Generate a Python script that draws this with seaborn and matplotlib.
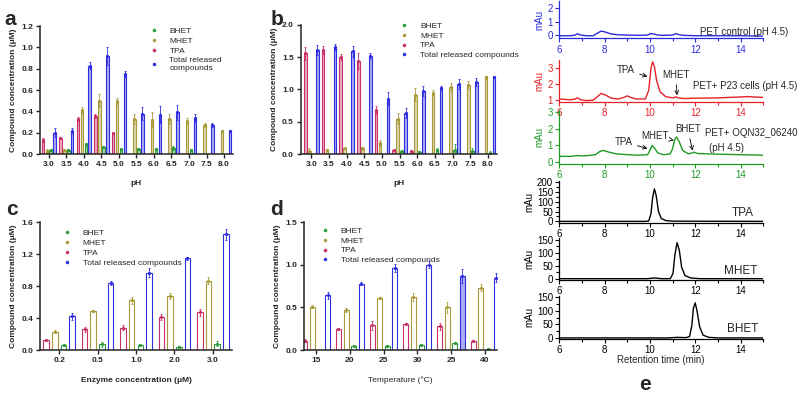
import numpy as np
import pandas as pd
import matplotlib
matplotlib.use("Agg")
import matplotlib.pyplot as plt
from matplotlib.lines import Line2D
from matplotlib.ticker import MultipleLocator
import seaborn as sns

sns.set_style("ticks")
plt.rcParams['font.family'] = ['Liberation Sans', 'DejaVu Sans']

# ---------------- bar data ----------------
compounds = ["TPA", "MHET", "BHET", "Total"]
colors = {"TPA": "#c9306a", "MHET": "#a99b3a", "BHET": "#2e9a3c", "Total": "#2f2fe0"}
legend_order = ["BHET", "MHET", "TPA", "Total"]

ph_labels = ["3.0", "3.5", "4.0", "4.5", "5.0", "5.5", "6.0", "6.5", "7.0", "7.5", "8.0"]

a_tpa = [0.13, 0.15, 0.33, 0.36, 0.20, 0.0, 0.0, 0.0, 0.0, 0.0, 0.0]
a_mhet = [0.03, 0.04, 0.41, 0.50, 0.50, 0.33, 0.32, 0.33, 0.31, 0.27, 0.22]
a_bhet = [0.04, 0.04, 0.09, 0.07, 0.05, 0.05, 0.05, 0.06, 0.04, 0.0, 0.0]
a_total = [0.20, 0.22, 0.83, 0.92, 0.75, 0.38, 0.37, 0.39, 0.34, 0.27, 0.22]
a_tpa_sd = [0.02, 0.01, 0.02, 0.02, 0.01, 0, 0, 0, 0, 0, 0]
a_mhet_sd = [0.02, 0.01, 0.03, 0.06, 0.03, 0.05, 0.07, 0.05, 0.03, 0.02, 0.01]
a_bhet_sd = [0.01, 0.01, 0.01, 0.01, 0.01, 0.01, 0.01, 0.02, 0.01, 0, 0]
a_total_sd = [0.04, 0.02, 0.03, 0.08, 0.03, 0.06, 0.08, 0.07, 0.04, 0.02, 0.01]

b_tpa = [1.56, 1.61, 1.50, 1.44, 0.68, 0.06, 0.04, 0.0, 0.0, 0.0, 0.0]
b_mhet = [0.05, 0.06, 0.09, 0.09, 0.17, 0.55, 0.92, 0.95, 1.04, 1.07, 1.19]
b_bhet = [0.0, 0.0, 0.0, 0.0, 0.0, 0.04, 0.03, 0.07, 0.06, 0.05, 0.02]
b_total = [1.61, 1.66, 1.59, 1.52, 0.86, 0.64, 0.98, 1.02, 1.09, 1.12, 1.20]
b_tpa_sd = [0.10, 0.06, 0.05, 0.12, 0.06, 0.01, 0.01, 0, 0, 0, 0]
b_mhet_sd = [0.05, 0.02, 0.01, 0.02, 0.04, 0.08, 0.10, 0.04, 0.06, 0.06, 0.02]
b_bhet_sd = [0, 0, 0, 0, 0, 0.01, 0.01, 0.02, 0.10, 0.05, 0.02]
b_total_sd = [0.08, 0.05, 0.08, 0.05, 0.10, 0.08, 0.08, 0.03, 0.08, 0.06, 0.01]

enzyme_labels = ["0.2", "0.5", "1.0", "2.0", "3.0"]
c_tpa = [0.12, 0.26, 0.28, 0.41, 0.47]
c_mhet = [0.23, 0.49, 0.62, 0.68, 0.87]
c_bhet = [0.06, 0.07, 0.06, 0.04, 0.08]
c_total = [0.42, 0.84, 0.97, 1.15, 1.45]
c_tpa_sd = [0.01, 0.03, 0.03, 0.04, 0.04]
c_mhet_sd = [0.02, 0.01, 0.05, 0.04, 0.04]
c_bhet_sd = [0.01, 0.03, 0.01, 0.01, 0.03]
c_total_sd = [0.04, 0.02, 0.06, 0.02, 0.07]

temp_labels = ["15", "20", "25", "30", "25", "40"]
d_tpa = [0.11, 0.25, 0.29, 0.31, 0.28, 0.11]
d_mhet = [0.51, 0.47, 0.61, 0.62, 0.50, 0.73]
d_bhet = [0.0, 0.05, 0.05, 0.06, 0.08, 0.01]
d_total = [0.64, 0.78, 0.96, 1.00, 0.87, 0.85]
d_tpa_sd = [0.02, 0.01, 0.05, 0.01, 0.04, 0.01]
d_mhet_sd = [0.02, 0.02, 0.01, 0.05, 0.06, 0.04]
d_bhet_sd = [0, 0.01, 0.01, 0.01, 0.01, 0]
d_total_sd = [0.04, 0.02, 0.05, 0.04, 0.08, 0.05]

# ---------------- chromatogram data ----------------
ctrl_t = [6.0, 6.5, 6.7, 6.8, 6.95, 7.2, 7.5, 7.65, 7.85, 8.05, 8.3, 8.6, 9.0, 9.5, 9.9, 10.05, 10.15, 10.35, 10.6, 11.0, 11.15, 11.25, 11.45, 12.0, 13.0, 14.0, 15.0]
ctrl_y = [-0.05, -0.05, 0.0, 0.1, 0.0, -0.05, -0.05, 0.1, 0.3, 0.22, 0.08, 0.02, 0.0, -0.02, 0.0, 0.12, 0.08, 0.0, -0.02, 0.0, 0.1, 0.05, -0.02, -0.05, -0.05, -0.05, -0.08]

p23_t = [6.0, 6.5, 6.7, 6.8, 6.95, 7.2, 7.5, 7.65, 7.85, 8.05, 8.3, 8.6, 8.85, 9.0, 9.15, 9.4, 9.8, 9.95, 10.05, 10.12, 10.2, 10.3, 10.45, 10.7, 11.0, 11.15, 11.25, 11.5, 12.0, 13.0, 14.0, 14.3, 15.0]
p23_y = [1.05, 1.0, 1.05, 1.12, 1.0, 0.95, 0.98, 1.15, 1.4, 1.3, 1.1, 1.05, 1.15, 1.25, 1.15, 1.05, 1.05, 1.6, 3.0, 3.4, 3.1, 2.2, 1.5, 1.2, 1.12, 1.18, 1.12, 1.08, 1.1, 1.12, 1.18, 1.2, 1.15]

oqn_t = [6.0, 6.5, 6.8, 7.0, 7.3, 7.6, 7.8, 7.95, 8.2, 8.5, 9.0, 9.5, 9.9, 10.0, 10.1, 10.2, 10.35, 10.6, 10.9, 11.0, 11.1, 11.18, 11.3, 11.45, 11.7, 11.85, 11.95, 12.1, 12.5, 13.0, 14.0, 15.0]
oqn_y = [0.35, 0.35, 0.4, 0.38, 0.4, 0.45, 0.65, 0.7, 0.6, 0.5, 0.45, 0.42, 0.45, 0.7, 1.0, 0.85, 0.55, 0.45, 0.5, 0.8, 1.35, 1.5, 1.2, 0.7, 0.5, 0.55, 0.6, 0.52, 0.5, 0.48, 0.45, 0.42]

tpa_t = [6.0, 9.8, 9.95, 10.05, 10.12, 10.2, 10.28, 10.38, 10.5, 10.7, 11.0, 15.0]
tpa_y = [0, 0, 2, 40, 120, 165, 130, 50, 15, 4, 1, 0]

mhet_t = [6.0, 9.9, 10.2, 10.5, 10.9, 11.02, 11.1, 11.2, 11.3, 11.4, 11.55, 11.8, 12.2, 15.0]
mhet_y = [0, 0, 3, 0, 0, 20, 90, 140, 110, 45, 12, 3, 0, 0]

bhet_t = [6.0, 10.8, 11.2, 11.6, 11.75, 11.85, 11.92, 12.0, 12.08, 12.2, 12.35, 12.6, 13.0, 15.0]
bhet_y = [0, 0, 2, 1, 5, 45, 110, 130, 100, 40, 10, 2, 0, 0]


def bar_panel(ax, labels, means, sds, ymax, step, xlabel, legend_anchor,
              total_label, fill="light", filled_total=(), xlim=None, xlabel_bold=True):
    rows = []
    for comp in compounds:
        for i, lab in enumerate(labels):
            rows.append({"group": i, "compound": comp, "value": means[comp][i]})
    df = pd.DataFrame(rows)
    sns.barplot(data=df, x="group", y="value", hue="compound", hue_order=compounds,
                palette=colors, width=0.9, gap=0.35, errorbar=None, legend=False, ax=ax)
    for comp, cont in zip(compounds, ax.containers):
        col = colors[comp]
        for j, bar in enumerate(cont):
            bar.set_edgecolor(col)
            bar.set_linewidth(0.8)
            if fill == "light" or (comp == "Total" and j in filled_total):
                bar.set_facecolor(matplotlib.colors.to_rgba(col, 0.4))
            else:
                bar.set_facecolor("white")
            x = bar.get_x() + bar.get_width() / 2
            h = bar.get_height()
            sd = sds[comp][j]
            if sd > 0:
                ax.errorbar(x, h, yerr=sd, color=col, lw=0.6, capsize=1.0, capthick=0.6)
            if h > 0:
                ax.plot(x, h, "o", ms=1.3, color=col)
    ax.set_xticks(range(len(labels)))
    ax.set_xticklabels(labels)
    ax.set_ylim(0, ymax)
    ax.yaxis.set_major_locator(MultipleLocator(step))
    ax.yaxis.set_major_formatter(matplotlib.ticker.FormatStrFormatter("%.1f"))
    if xlim is None:
        xlim = (-0.5, len(labels) - 0.5)
    ax.set_xlim(*xlim)
    ax.set_ylabel("Compound concentration (μM)", fontsize=6, fontweight="bold", labelpad=3)
    ax.set_xlabel(xlabel, fontsize=6, fontweight="bold" if xlabel_bold else "normal", labelpad=9)
    ax.tick_params(axis="both", labelsize=6, width=1.0, length=3, pad=2)
    for t in ax.get_xticklabels() + ax.get_yticklabels():
        t.set_fontweight("bold")
    for s in ["left", "bottom"]:
        ax.spines[s].set_linewidth(1.1)
    sns.despine(ax=ax)
    handles = []
    names = {"BHET": "BHET", "MHET": "MHET", "TPA": "TPA", "Total": total_label}
    for comp in legend_order:
        handles.append(Line2D([], [], ls="none", marker="o", ms=1.5, color=colors[comp], label=names[comp]))
    ax.legend(handles=handles, loc="upper left", bbox_to_anchor=legend_anchor, frameon=False,
              fontsize=6, handletextpad=1.4, labelspacing=0.25, handlelength=1, borderaxespad=0)


fig = plt.figure(figsize=(8, 3.96), dpi=100)

ax_a = fig.add_axes([0.05, 0.611, 0.241, 0.323])
bar_panel(ax_a, ph_labels,
          {"TPA": a_tpa, "MHET": a_mhet, "BHET": a_bhet, "Total": a_total},
          {"TPA": a_tpa_sd, "MHET": a_mhet_sd, "BHET": a_bhet_sd, "Total": a_total_sd},
          1.2, 0.2, "pH", (0.55, 1.02), "Total released\ncompounds")

ax_b = fig.add_axes([0.376, 0.611, 0.245, 0.326])
bar_panel(ax_b, ph_labels,
          {"TPA": b_tpa, "MHET": b_mhet, "BHET": b_bhet, "Total": b_total},
          {"TPA": b_tpa_sd, "MHET": b_mhet_sd, "BHET": b_bhet_sd, "Total": b_total_sd},
          2.0, 0.5, "pH", (0.49, 1.05), "Total released compounds", xlim=(-0.6, 10.5))

ax_c = fig.add_axes([0.05, 0.116, 0.24, 0.323])
bar_panel(ax_c, enzyme_labels,
          {"TPA": c_tpa, "MHET": c_mhet, "BHET": c_bhet, "Total": c_total},
          {"TPA": c_tpa_sd, "MHET": c_mhet_sd, "BHET": c_bhet_sd, "Total": c_total_sd},
          1.6, 0.4, "Enzyme concentration (μM)", (0.1, 0.97), "Total released compounds",
          fill="hollow")

ax_d = fig.add_axes([0.38, 0.116, 0.241, 0.323])
bar_panel(ax_d, temp_labels,
          {"TPA": d_tpa, "MHET": d_mhet, "BHET": d_bhet, "Total": d_total},
          {"TPA": d_tpa_sd, "MHET": d_mhet_sd, "BHET": d_bhet_sd, "Total": d_total_sd},
          1.5, 0.5, "Temperature (°C)", (0.07, 0.99), "Total released compounds",
          fill="hollow", filled_total=(4,), xlim=(-0.36, 5.36), xlabel_bold=False)

for x, y, s in [(0.006, 0.975, "a"), (0.338, 0.975, "b"), (0.008, 0.495, "c"), (0.338, 0.495, "d")]:
    fig.text(x, y, s, fontsize=15, fontweight="bold", va="top", ha="left")

# ---------------- chromatograms ----------------
traces = [
    (ctrl_t, ctrl_y, "#2b2bdc", [0.699, 0.903, 0.255, 0.0947], (-0.25, 2.55), 1, None),
    (p23_t, p23_y, "#e52228", [0.699, 0.742, 0.255, 0.106], (0.85, 3.5), 1, None),
    (oqn_t, oqn_y, "#1f9a24", [0.699, 0.586, 0.255, 0.136], (-0.1, 3.1), 1, None),
    (tpa_t, tpa_y, "black", [0.699, 0.437, 0.255, 0.106], (-8, 205), 50, 25),
    (mhet_t, mhet_y, "black", [0.699, 0.293, 0.255, 0.106], (-5, 158), 50, 25),
    (bhet_t, bhet_y, "black", [0.699, 0.144, 0.255, 0.109], (-4, 156), 50, 25),
]
e_axes = []
for t, y, col, rect, ylim, major, minor in traces:
    ax = fig.add_axes(rect)
    sns.lineplot(x=t, y=y, color=col, lw=1.0, ax=ax, estimator=None, sort=False)
    ax.set_xlim(6, 15)
    ax.set_ylim(*ylim)
    ax.xaxis.set_major_locator(MultipleLocator(2))
    ax.xaxis.set_minor_locator(MultipleLocator(1))
    ax.yaxis.set_major_locator(MultipleLocator(major))
    if minor:
        ax.yaxis.set_minor_locator(MultipleLocator(minor))
    ax.tick_params(axis="both", which="major", labelsize=7, length=3, width=0.8, colors=col, pad=1.5)
    ax.tick_params(axis="both", which="minor", length=2, width=0.8, colors=col)
    for s in ["left", "bottom"]:
        ax.spines[s].set_color(col)
        ax.spines[s].set_linewidth(0.9)
    sns.despine(ax=ax)
    ax.set_ylabel("mAu", fontsize=7, color=col, labelpad=2)
    ax.patch.set_alpha(0)
    e_axes.append(ax)

arrow = dict(arrowstyle="->", lw=0.6, color="black", shrinkA=1, shrinkB=1)
e_axes[0].text(12.2, 0.25, "PET control (pH 4.5)", fontsize=7, va="center")
e_axes[1].text(11.9, 1.86, "PET+ P23 cells (pH 4.5)", fontsize=7, va="center")
e_axes[1].annotate("TPA", xy=(9.95, 2.45), xytext=(8.55, 2.87), fontsize=7, va="center",
                   arrowprops=arrow)
e_axes[1].annotate("MHET", xy=(11.2, 1.2), xytext=(10.55, 2.55), fontsize=7, va="center",
                   arrowprops=arrow)
e_axes[2].text(12.45, 1.74, "PET+ OQN32_06240", fontsize=7, va="center")
e_axes[2].text(12.6, 0.85, "(pH 4.5)", fontsize=7, va="center")
e_axes[2].annotate("TPA", xy=(9.95, 0.8), xytext=(8.45, 1.2), fontsize=7, va="center",
                   arrowprops=arrow)
e_axes[2].annotate("MHET", xy=(11.05, 1.3), xytext=(9.6, 1.56), fontsize=7, va="center",
                   arrowprops=arrow)
e_axes[2].annotate("BHET", xy=(11.9, 0.62), xytext=(11.1, 1.97), fontsize=7, va="center",
                   arrowprops=arrow)
e_axes[3].text(14.1, 43, "TPA", fontsize=8.5, ha="center", va="center")
e_axes[4].text(14.0, 30, "MHET", fontsize=8.5, ha="center", va="center")
e_axes[5].text(14.1, 33, "BHET", fontsize=8.5, ha="center", va="center")
e_axes[5].set_xlabel("Retention time (min)", fontsize=7, labelpad=0)

fig.text(0.806, 0.03, "e", fontsize=15, fontweight="bold", ha="center", va="center")

fig.savefig("out.png", dpi=100)
